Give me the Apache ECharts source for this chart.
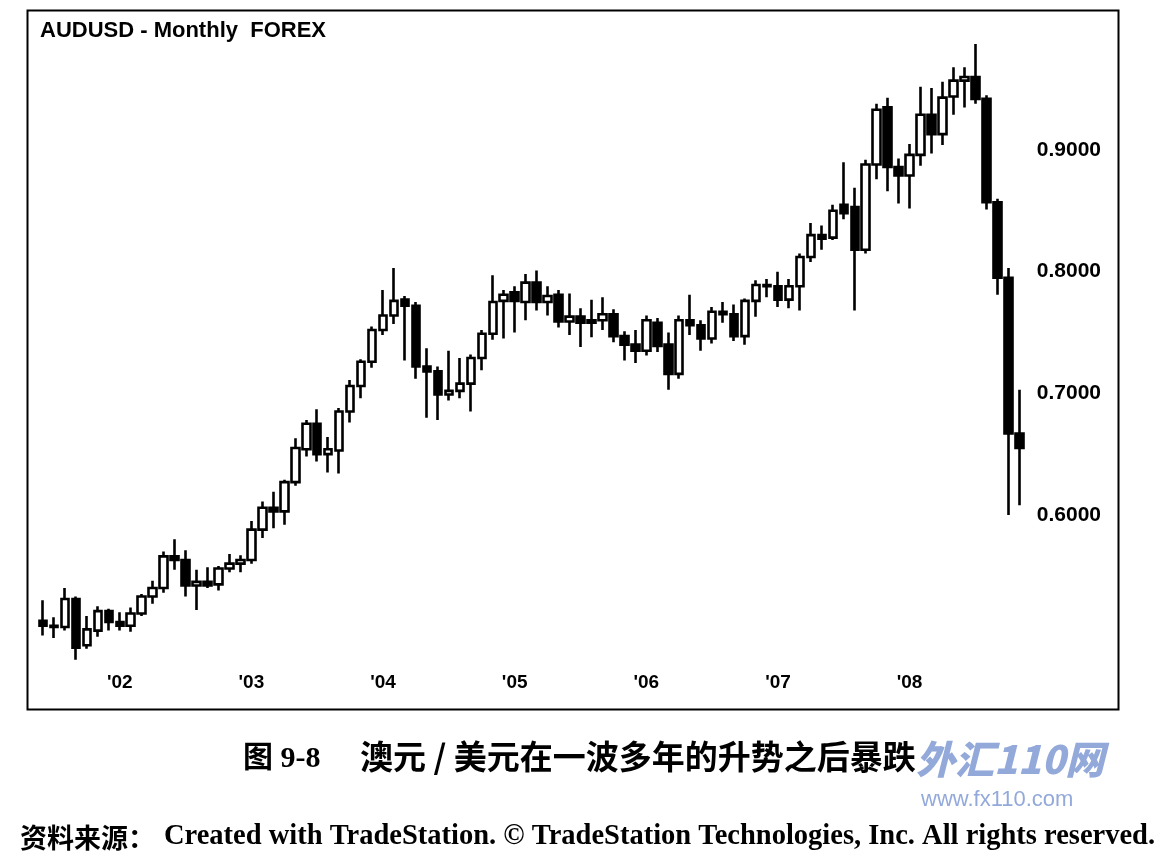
<!DOCTYPE html>
<html>
<head>
<meta charset="utf-8">
<script src="https://cdn.jsdelivr.net/npm/echarts@6/dist/echarts.min.js"></script>
<style>
html,body{margin:0;padding:0;background:#fff;}
#c{width:1162px;height:862px;}
</style>
</head>
<body>
<div id="c"></div>
<script>
// Months Jun 2001 .. Nov 2008
var startYear = 2001, startMonth = 6, monthCount = 90;
var categories = [];
for (var i = 0; i < monthCount; i++) {
  var m = startMonth - 1 + i;
  var y = startYear + Math.floor(m / 12);
  var mm = (m % 12) + 1;
  categories.push(y + '-' + (mm < 10 ? '0' + mm : '' + mm));
}

var opens = [0.513,0.509,0.508,0.531,0.493,0.505,0.521,0.512,0.509,0.519,0.533,0.540,0.566,0.563,0.542,0.545,0.543,0.556,0.560,0.563,
0.588,0.606,0.603,0.627,0.654,0.675,0.650,0.653,0.685,0.706,0.726,0.752,0.764,0.777,0.772,0.722,0.718,0.699,0.702,0.708,
0.729,0.749,0.776,0.783,0.775,0.791,0.775,0.781,0.759,0.763,0.758,0.760,0.765,0.747,0.740,0.735,0.758,0.740,0.716,0.760,
0.756,0.745,0.767,0.765,0.747,0.776,0.789,0.788,0.777,0.788,0.812,0.830,0.828,0.855,0.853,0.818,0.888,0.935,0.886,0.879,
0.896,0.929,0.913,0.944,0.957,0.960,0.942,0.857,0.795,0.667];
var closes = [0.509,0.508,0.531,0.491,0.506,0.521,0.512,0.509,0.519,0.533,0.540,0.566,0.563,0.542,0.545,0.542,0.556,0.560,0.563,0.588,
0.606,0.603,0.627,0.655,0.675,0.650,0.654,0.685,0.706,0.726,0.752,0.764,0.776,0.772,0.722,0.718,0.699,0.702,0.708,0.729,
0.749,0.775,0.781,0.776,0.791,0.775,0.780,0.759,0.763,0.758,0.760,0.765,0.747,0.740,0.735,0.760,0.739,0.716,0.760,0.756,
0.745,0.767,0.765,0.747,0.776,0.789,0.788,0.777,0.788,0.812,0.830,0.827,0.850,0.848,0.818,0.888,0.933,0.886,0.879,0.896,
0.929,0.913,0.943,0.957,0.960,0.942,0.857,0.795,0.667,0.655];
var lows = [0.501,0.499,0.505,0.481,0.490,0.500,0.505,0.505,0.504,0.517,0.527,0.536,0.555,0.533,0.522,0.540,0.538,0.553,0.553,0.560,
0.581,0.589,0.592,0.624,0.648,0.644,0.635,0.634,0.676,0.696,0.721,0.748,0.757,0.727,0.712,0.680,0.678,0.694,0.696,0.685,
0.719,0.744,0.745,0.750,0.760,0.768,0.764,0.754,0.748,0.738,0.746,0.752,0.742,0.727,0.725,0.731,0.734,0.703,0.712,0.748,
0.735,0.741,0.758,0.743,0.740,0.763,0.779,0.771,0.770,0.768,0.808,0.818,0.826,0.843,0.768,0.815,0.876,0.866,0.856,0.852,
0.887,0.897,0.904,0.929,0.935,0.938,0.851,0.781,0.600,0.608];
var highs = [0.530,0.516,0.540,0.533,0.517,0.525,0.523,0.520,0.524,0.535,0.546,0.570,0.580,0.571,0.555,0.557,0.558,0.568,0.567,0.595,
0.611,0.619,0.629,0.663,0.678,0.687,0.664,0.688,0.711,0.728,0.755,0.785,0.803,0.780,0.775,0.737,0.722,0.735,0.729,0.732,
0.752,0.797,0.785,0.788,0.798,0.801,0.788,0.785,0.782,0.770,0.777,0.779,0.769,0.751,0.752,0.764,0.762,0.750,0.764,0.781,
0.760,0.771,0.775,0.773,0.778,0.793,0.794,0.800,0.794,0.815,0.840,0.838,0.855,0.890,0.869,0.892,0.938,0.943,0.893,0.905,
0.952,0.951,0.956,0.968,0.968,0.987,0.945,0.860,0.803,0.703];

var yTickValues = [0.6, 0.7, 0.8, 0.9];
var titleText = 'AUDUSD - Monthly  FOREX';
var captionText = '澳元 / 美元在一波多年的升势之后暴跌';
var captionNum = '图 9-8';
var sourceCn = '资料来源：';
var sourceEn = 'Created with TradeStation. © TradeStation Technologies, Inc. All rights reserved.';

var candleData = [];
for (var k = 0; k < categories.length; k++) {
  candleData.push([opens[k], closes[k], lows[k], highs[k]]);
}

var chart = echarts.init(document.getElementById('c'), null, {renderer: 'canvas'});
var option = {
  backgroundColor: '#ffffff',
  animation: false,
  grid: {left: 37.5, right: 137.2, top: 28.3, bottom: 164.5, containLabel: false},
  xAxis: {
    type: 'category',
    data: categories,
    boundaryGap: true,
    axisLine: {show: false},
    axisTick: {show: false},
    splitLine: {show: false},
    axisLabel: {
      inside: true,
      margin: 5,
      interval: function (idx, val) { return val.slice(5) === '01'; },
      formatter: function (val) { return "'" + val.slice(2, 4); },
      fontFamily: 'Liberation Sans, Arial, sans-serif',
      fontWeight: 'bold',
      fontSize: 19,
      color: '#000'
    }
  },
  yAxis: {
    type: 'value',
    position: 'right',
    min: 0.45,
    max: 1.0,
    interval: 0.05,
    scale: false,
    axisLine: {show: false},
    axisTick: {show: false},
    splitLine: {show: false},
    axisLabel: {
      margin: 12,
      fontFamily: 'Liberation Sans, Arial, sans-serif',
      fontWeight: 'bold',
      fontSize: 21,
      color: '#000',
      formatter: function (v) {
        for (var t = 0; t < yTickValues.length; t++) {
          if (Math.abs(v - yTickValues[t]) < 1e-6) return yTickValues[t].toFixed(4);
        }
        return '';
      }
    }
  },
  series: [{
    type: 'candlestick',
    data: candleData,
    barWidth: 8,
    itemStyle: {
      color: '#ffffff',
      color0: '#000000',
      borderColor: '#000000',
      borderColor0: '#000000',
      borderWidth: 2.6
    }
  }],
  graphic: [
    {type: 'rect', left: 25, top: 8, shape: {x: 0, y: 0, width: 1091, height: 699},
     style: {fill: 'none', stroke: '#000', lineWidth: 2}, z: 10, silent: true},
    {type: 'text', left: 40, top: 20, z: 11,
     style: {text: titleText, font: 'bold 22px "Liberation Sans", Arial, sans-serif', fill: '#000'}},
    {type: 'text', left: 243, top: 744, z: 11,
     style: {text: captionNum, font: 'bold 30px "Liberation Serif", "Noto Sans CJK SC", serif', fill: '#000'}},
    {type: 'text', left: 360, top: 740, z: 11,
     style: {text: captionText, font: 'bold 33px "Noto Sans CJK SC", sans-serif', fill: '#000'}},
    {type: 'text', left: 916, top: 740, z: 12,
     style: {text: '外汇110网', font: 'italic 900 39px "Noto Sans CJK SC", sans-serif', fill: '#93a9da'}},
    {type: 'text', left: 921, top: 789, z: 12,
     style: {text: 'www.fx110.com', font: '22px "Liberation Sans", Arial, sans-serif', fill: '#93a9da'}},
    {type: 'text', left: 20, top: 824, z: 11,
     style: {text: sourceCn, font: 'bold 27px "Noto Sans CJK SC", serif', fill: '#000'}},
    {type: 'text', left: 164, top: 822, z: 11,
     style: {text: sourceEn, font: 'bold 28.5px "Liberation Serif", "Times New Roman", serif', fill: '#000'}}
  ]
};
chart.setOption(option);
</script>
</body>
</html>
